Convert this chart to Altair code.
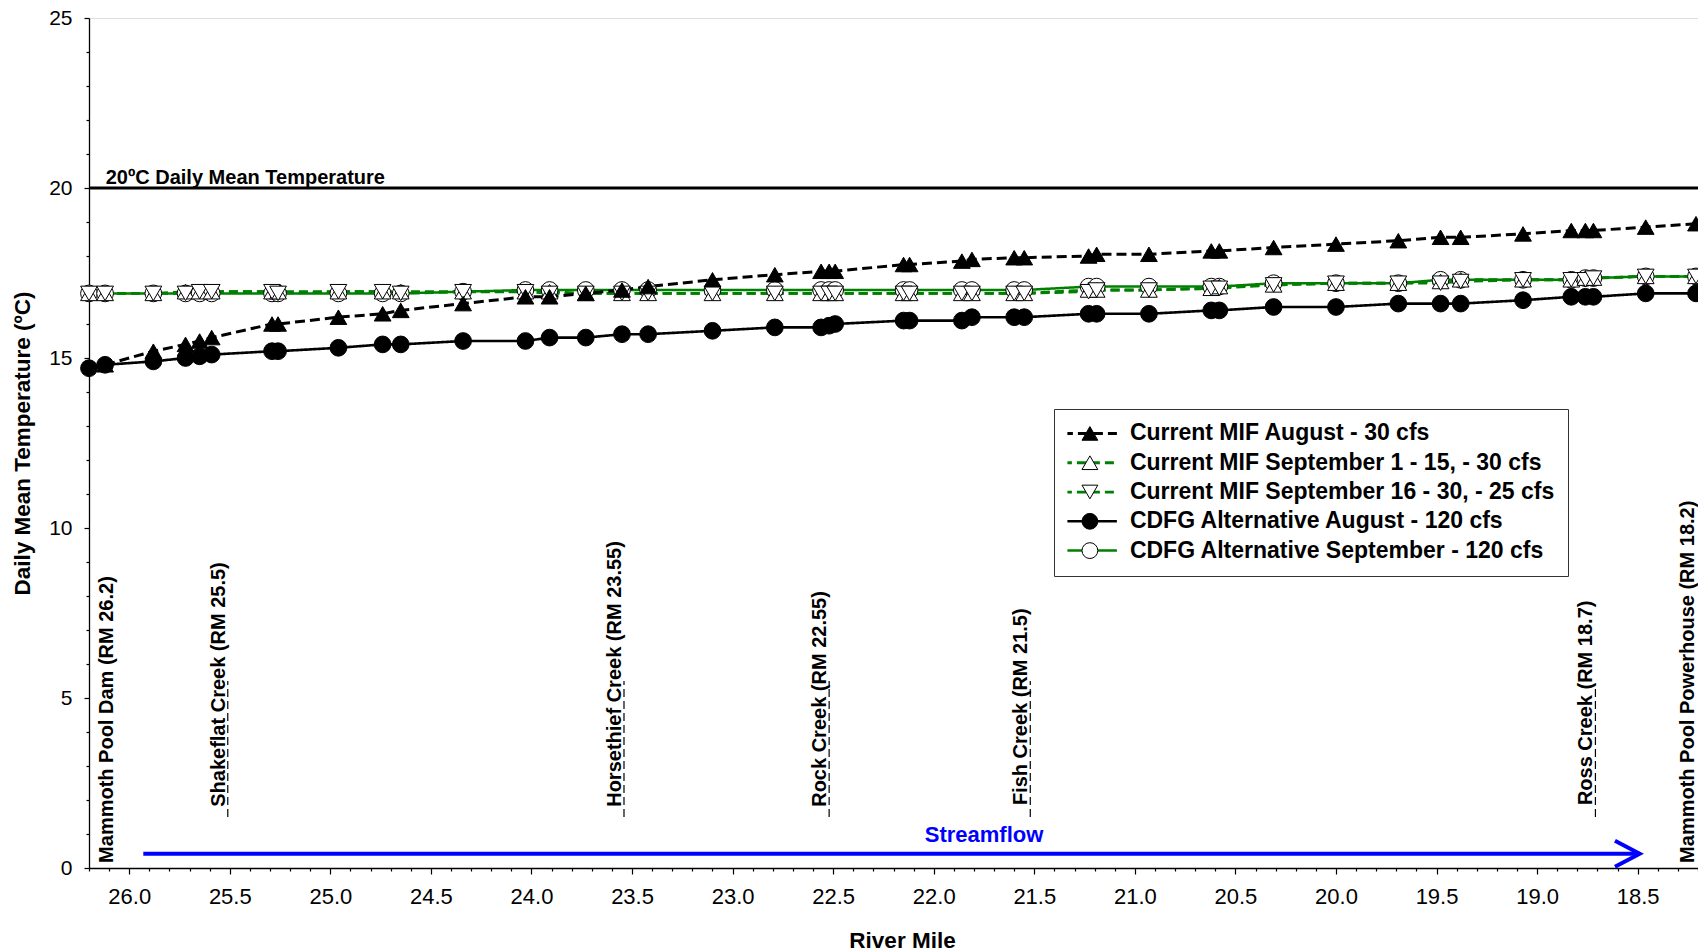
import altair as alt
import pandas as pd

FONT = "Liberation Sans"

# ---------------- data ----------------
river_mile = [26.2, 26.12, 25.88, 25.72, 25.65, 25.59, 25.29, 25.26, 24.96, 24.74, 24.65,
              24.34, 24.03, 23.91, 23.73, 23.55, 23.42, 23.10, 22.79, 22.56, 22.52, 22.49,
              22.15, 22.12, 21.86, 21.81, 21.60, 21.55, 21.23, 21.19, 20.93, 20.62, 20.58,
              20.31, 20.00, 19.69, 19.48, 19.38, 19.07, 18.83, 18.76, 18.72, 18.46, 18.21]

series_names = [
    "Current MIF August - 30 cfs",
    "Current MIF September 1 - 15, - 30 cfs",
    "Current MIF September 16 - 30, - 25 cfs",
    "CDFG Alternative August - 120 cfs",
    "CDFG Alternative September - 120 cfs",
]

mif_aug = [None, 14.8, 15.2, 15.4, 15.5, 15.6, 16.0, 16.0, 16.2, 16.3, 16.4,
           16.6, 16.8, 16.8, 16.9, 17.0, 17.1, 17.3, 17.45, 17.55, 17.55, 17.55,
           17.75, 17.75, 17.85, 17.9, 17.95, 17.95, 18.0, 18.05, 18.05, 18.15, 18.15,
           18.25, 18.35, 18.45, 18.55, 18.55, 18.65, 18.75, 18.75, 18.75, 18.85, 18.95]

mif_sep_1_15 = [16.9, 16.9, 16.9, 16.95, 16.95, 16.95, 16.95, 16.95, 16.95, 16.95, 16.95,
                16.95, 16.95, 16.95, 16.9, 16.9, 16.9, 16.9, 16.9, 16.9, 16.9, 16.9,
                16.9, 16.9, 16.9, 16.9, 16.9, 16.9, 17.0, 17.0, 17.0, 17.05, 17.1,
                17.15, 17.2, 17.2, 17.25, 17.3, 17.3, 17.3, 17.35, 17.35, 17.4, 17.4]

mif_sep_16_30 = [16.9, 16.9, 16.9, 16.9, 16.95, 16.95, 16.95, 16.9, 16.95, 16.95, 16.9,
                 16.95, 16.95, 16.9, 16.9, 16.9, 16.9, 16.9, 16.9, 16.9, 16.9, 16.9,
                 16.9, 16.9, 16.9, 16.9, 16.9, 16.9, 16.95, 17.0, 17.0, 17.05, 17.05,
                 17.15, 17.2, 17.2, 17.2, 17.25, 17.3, 17.3, 17.3, 17.35, 17.4, 17.4]

cdfg_aug = [14.7, 14.8, 14.9, 15.0, 15.05, 15.1, 15.2, 15.2, 15.3, 15.4, 15.4,
            15.5, 15.5, 15.6, 15.6, 15.7, 15.7, 15.8, 15.9, 15.9, 15.95, 16.0,
            16.1, 16.1, 16.1, 16.2, 16.2, 16.2, 16.3, 16.3, 16.3, 16.4, 16.4,
            16.5, 16.5, 16.6, 16.6, 16.6, 16.7, 16.8, 16.8, 16.8, 16.9, 16.9]

cdfg_sep = [16.9, 16.9, 16.9, 16.9, 16.9, 16.9, 16.9, 16.9, 16.9, 16.9, 16.9,
            16.95, 17.0, 17.0, 17.0, 17.0, 17.0, 17.0, 17.0, 17.0, 17.0, 17.0,
            17.0, 17.0, 17.0, 17.0, 17.0, 17.0, 17.1, 17.1, 17.1, 17.1, 17.1,
            17.2, 17.2, 17.2, 17.3, 17.3, 17.3, 17.3, 17.35, 17.35, 17.4, 17.4]

series_values = [mif_aug, mif_sep_1_15, mif_sep_16_30, cdfg_aug, cdfg_sep]

line_colors = ["black", "#008000", "#008000", "black", "#008000"]
line_dashes = [[10, 5], [9, 5], [9, 5], [1, 0], [1, 0]]
line_widths = [3, 2.5, 2.5, 3, 4.5]
marker_shapes = ["triangle-up", "triangle-up", "triangle-down", "circle", "circle"]
marker_fills = ["black", "white", "white", "black", "white"]
marker_strokes = ["black", "black", "black", "black", "black"]
line_draw_order = [1, 2, 4, 0, 3]
point_draw_order = [4, 1, 2, 0, 3]
# marker legend keys differ by a trailing space so it stays a separate legend
marker_keys = [name + " " for name in series_names]

threshold = [20]
threshold_label = ["20\u00baC Daily Mean Temperature"]
threshold_label_mile = [26.117]

site_names = ["Mammoth Pool Dam (RM 26.2)", "Shakeflat Creek (RM 25.5)",
              "Horsethief Creek (RM 23.55)", "Rock Creek (RM 22.55)",
              "Fish Creek (RM 21.5)", "Ross Creek (RM 18.7)",
              "Mammoth Pool Powerhouse (RM 18.2)"]
site_label_mile = [26.08, 25.525, 23.555, 22.535, 21.535, 18.725, 18.222]
site_label_start = [0.15, 1.8, 1.8, 1.8, 1.85, 1.85, 0.15]

creek_mile = [25.51, 23.54, 22.52, 21.52, 18.71]
creek_line_low = [1.5, 1.5, 1.5, 1.5, 1.5]
creek_line_high = [5.5, 5.5, 5.5, 5.5, 5.4]

arrow_start = [25.93]
arrow_end = [18.49]
arrow_temp = [0.42]
streamflow_label = ["Streamflow"]
streamflow_mile = [21.75]
streamflow_temp = [0.96]

x_tick_values = [round(18.2 + 0.1 * i, 1) for i in range(81)]
y_tick_values = list(range(0, 26))

# ---------------- tables ----------------
line_rows = []
for i in line_draw_order:
    for m, t in zip(river_mile, series_values[i]):
        if t is not None:
            line_rows.append({"mile": m, "temp": t, "series": series_names[i]})
line_df = pd.DataFrame(line_rows)

point_rows = []
for i in point_draw_order:
    for m, t in zip(river_mile, series_values[i]):
        if t is not None:
            point_rows.append({"mile": m, "temp": t, "marker": marker_keys[i]})
point_df = pd.DataFrame(point_rows)

thr_df = pd.DataFrame({"temp": threshold, "label": threshold_label, "mile": threshold_label_mile})
site_df = pd.DataFrame({"name": site_names, "mile": site_label_mile, "temp": site_label_start})
creek_df = pd.DataFrame({"mile": creek_mile, "temp": creek_line_low, "temp2": creek_line_high})
arrow_df = pd.DataFrame({"mile": arrow_start, "mile2": arrow_end, "temp": arrow_temp})
head_df = pd.DataFrame({"mile": arrow_end, "temp": arrow_temp})
flow_df = pd.DataFrame({"label": streamflow_label, "mile": streamflow_mile, "temp": streamflow_temp})

# ---------------- scales & axes ----------------
xs = alt.Scale(domain=[18.2, 26.2], reverse=True, nice=False, zero=False)
ys = alt.Scale(domain=[0, 25], nice=False, zero=True)

x_major = "abs(datum.value*2 - round(datum.value*2)) < 0.001"
x_axis = alt.Axis(
    values=x_tick_values,
    labelExpr=f"{x_major} ? format(datum.value, '.1f') : ''",
    tickSize={"condition": {"test": x_major, "value": 6}, "value": 3},
    labelFont=FONT, labelFontSize=22, labelColor="black", labelPadding=12,
    labelOverlap=False, labelFlush=False,
    title="River Mile", titleFont=FONT, titleFontSize=22.5, titleFontWeight="bold",
    titleColor="black", titleX=813, titleY=72, titleBaseline="middle", titleAlign="center",
    domainColor="black", domainWidth=1.3, tickColor="black", tickWidth=1.2, grid=False,
)
y_major = "datum.value % 5 === 0"
y_axis = alt.Axis(
    values=y_tick_values,
    labelExpr=f"{y_major} ? datum.label : ''",
    tickSize={"condition": {"test": y_major, "value": 5}, "value": 3},
    labelFont=FONT, labelFontSize=21, labelColor="black", labelPadding=12,
    labelOverlap=False, labelFlush=False,
    title="Daily Mean Temperature (\u00baC)", titleFont=FONT, titleFontSize=22.5,
    titleFontWeight="bold", titleColor="black", titleX=-67, titleY=425, titleAngle=270,
    titleBaseline="middle", titleAlign="center",
    domainColor="black", domainWidth=1.3, tickColor="black", tickWidth=1.2, grid=False,
)

X = alt.X("mile:Q", scale=xs, axis=x_axis)
Y = alt.Y("temp:Q", scale=ys, axis=y_axis)

legend_common = dict(
    title=None, orient="none", legendX=965, legendY=391, padding=13.4,
    labelFont=FONT, labelFontSize=23, labelFontWeight="bold", labelColor="black",
    labelLimit=800, clipHeight=22, rowPadding=6.3, labelOffset=11.5,
)
legend_lines = alt.Legend(fillColor="white", strokeColor="#333333", symbolType="stroke",
                          symbolSize=2916, symbolOffset=-6, zindex=1, **legend_common)
legend_marks = alt.Legend(symbolSize=250, symbolOffset=11, labelOpacity=0,
                          labelExpr="' '", symbolStrokeWidth=1, zindex=2, **legend_common)

lines = alt.Chart(line_df).mark_line().encode(
    x=X, y=Y,
    color=alt.Color("series:N", scale=alt.Scale(domain=series_names, range=line_colors),
                    legend=legend_lines),
    strokeDash=alt.StrokeDash("series:N", scale=alt.Scale(domain=series_names, range=line_dashes),
                              legend=legend_lines),
    strokeWidth=alt.StrokeWidth("series:N", scale=alt.Scale(domain=series_names, range=line_widths),
                                legend=legend_lines),
)

points = alt.Chart(point_df).mark_point(filled=True, strokeWidth=1,
                                        opacity=1, size=280).encode(
    x=X, y=Y,
    shape=alt.Shape("marker:N", scale=alt.Scale(domain=marker_keys, range=marker_shapes),
                    legend=legend_marks),
    fill=alt.Fill("marker:N", scale=alt.Scale(domain=marker_keys, range=marker_fills),
                  legend=legend_marks),
    stroke=alt.Stroke("marker:N", scale=alt.Scale(domain=marker_keys, range=marker_strokes),
                      legend=legend_marks),
)

thr_rule = alt.Chart(thr_df).mark_rule(color="black", strokeWidth=3).encode(y=Y)
thr_text = alt.Chart(thr_df).mark_text(
    font=FONT, fontSize=20, fontWeight="bold", color="black", align="left",
    baseline="alphabetic", dy=-4,
).encode(x=X, y=Y, text="label:N")

creek_lines = alt.Chart(creek_df).mark_rule(color="black", strokeWidth=1.2,
                                            strokeDash=[8, 4]).encode(
    x=X, y=Y, y2="temp2:Q")

site_text = alt.Chart(site_df).mark_text(
    font=FONT, fontSize=20, fontWeight="bold", color="black", angle=270,
    align="left", baseline="alphabetic",
).encode(x=X, y=Y, text="name:N")

arrow_line = alt.Chart(arrow_df).mark_rule(color="#0000FF", strokeWidth=4).encode(
    x=X, x2="mile2:Q", y=Y)
arrow_head = alt.Chart(head_df).mark_point(
    shape="M -1.9 -1 L 0 0 L -1.9 1", filled=False, stroke="#0000FF", strokeWidth=4,
    size=676, opacity=1,
).encode(x=X, y=Y)
flow_text = alt.Chart(flow_df).mark_text(
    font=FONT, fontSize=22, fontWeight="bold", color="#0000FF", align="center",
    baseline="middle",
).encode(x=X, y=Y, text="label:N")

chart = alt.layer(
    thr_rule, thr_text, creek_lines, site_text, arrow_line, arrow_head, flow_text,
    lines, points,
).properties(
    width=1609, height=850,
    autosize=alt.AutoSizeParams(type="none"),
    padding={"left": 89, "top": 18, "right": 0, "bottom": 84},
).configure_view(
    stroke="black", strokeWidth=1.3,
).configure(background="white")

chart.save("out.html", embed_options={"renderer": "svg", "actions": False})
